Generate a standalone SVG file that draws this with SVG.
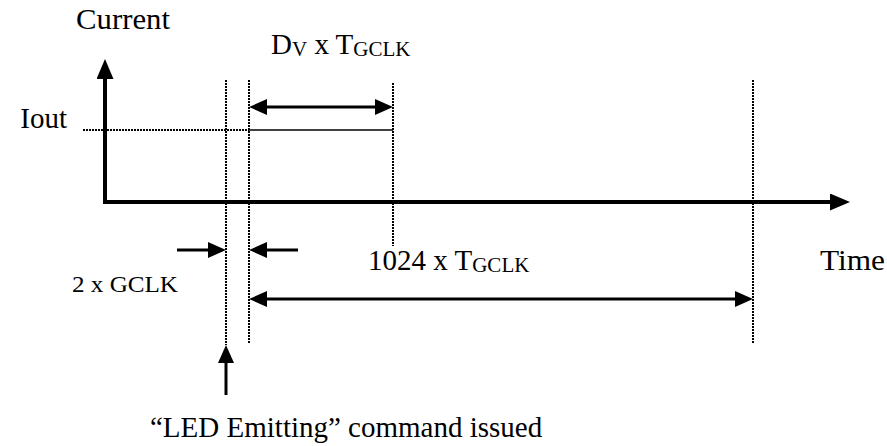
<svg xmlns="http://www.w3.org/2000/svg" width="887" height="446" viewBox="0 0 887 446">
<style>
text{font-family:"Liberation Serif","Times New Roman",serif;fill:#000}
.t{font-size:29px}
.sub{font-size:21px}
.dot{stroke:#000;stroke-width:2;stroke-dasharray:2 1;fill:none}
.arr{stroke:#000;stroke-width:3;fill:none}
.axis{stroke:#000;stroke-width:4;fill:none;stroke-linejoin:miter}
</style>
<defs>
<marker id="ah" markerUnits="userSpaceOnUse" viewBox="0 0 18 16" markerWidth="18" markerHeight="16" refX="8" refY="8" orient="auto-start-reverse"><path d="M0,0 L18,8 L0,16 Z" fill="#000"/></marker>
<marker id="axh" markerUnits="userSpaceOnUse" viewBox="0 0 20 17" markerWidth="20" markerHeight="17" refX="10" refY="8.5" orient="auto-start-reverse"><path d="M0,0 L20,8.5 L0,17 Z" fill="#000"/></marker>
</defs>
<g id="labels">
<text id="current" class="t" x="76" y="29" textLength="94" lengthAdjust="spacingAndGlyphs">Current</text>
<text id="iout" class="t" x="67" y="128" text-anchor="end">Iout</text>
<text id="time" class="t" x="820" y="270" textLength="65" lengthAdjust="spacingAndGlyphs">Time</text>
<text id="dv" class="t" x="271" y="54">D<tspan class="sub" dy="1.5">V</tspan><tspan dy="-1.5"> x T</tspan><tspan class="sub" dy="1.5">GCLK</tspan></text>
<text id="period" class="t" x="368" y="270">1024 x T<tspan class="sub" dy="1.5">GCLK</tspan></text>
<text id="gclk2" x="72" y="292" style="font-size:23px" textLength="106" lengthAdjust="spacingAndGlyphs">2 x GCLK</text>
<text id="cmd" class="t" x="150" y="437">“LED Emitting” command issued</text>
</g>
<g id="guides">
<line class="dot" x1="226" y1="80" x2="226" y2="345"/>
<line class="dot" x1="249" y1="80" x2="249" y2="343"/>
<line class="dot" x1="393" y1="83" x2="393" y2="246"/>
<line class="dot" x1="753" y1="80" x2="753" y2="343"/>
<line class="dot" x1="83" y1="130" x2="249" y2="130"/>
</g>
<g id="pulse">
<line x1="249" y1="130" x2="393" y2="130" stroke="#000" stroke-width="1.5"/>
</g>
<g id="axes">
<path class="axis" d="M105,69 V202 H840" marker-start="url(#axh)" marker-end="url(#axh)"/>
</g>
<g id="connectors">
<line class="arr" x1="259" y1="107" x2="383" y2="107" marker-start="url(#ah)" marker-end="url(#ah)"/>
<line class="arr" x1="259" y1="299" x2="743" y2="299" marker-start="url(#ah)" marker-end="url(#ah)"/>
<line class="arr" x1="177" y1="250" x2="216" y2="250" marker-end="url(#ah)"/>
<line class="arr" x1="298" y1="250" x2="259" y2="250" marker-end="url(#ah)"/>
<line class="arr" x1="226" y1="395" x2="226" y2="355" marker-end="url(#ah)"/>
</g>
</svg>
